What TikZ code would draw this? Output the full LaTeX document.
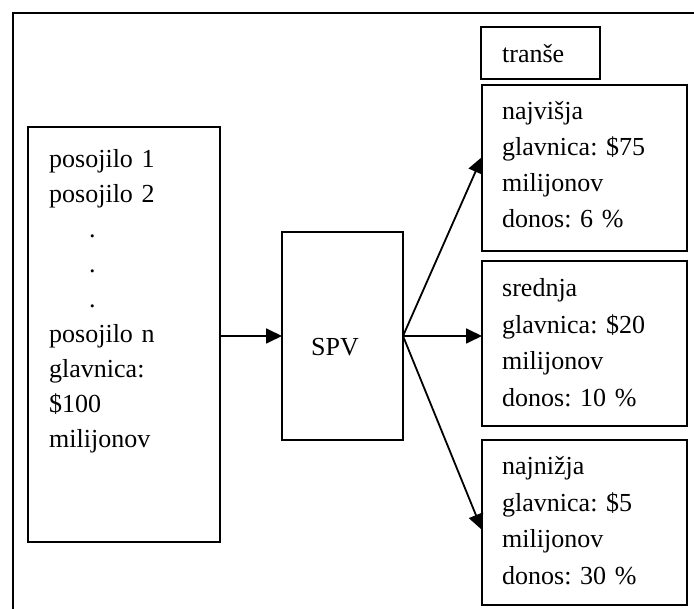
\documentclass[tikz,border=0pt]{standalone}
\usepackage{fontspec}
\setmainfont{Liberation Serif}
\usetikzlibrary{arrows.meta}
\frenchspacing
\begin{document}
\begin{tikzpicture}[x=1pt,y=-1pt,
  box/.style={draw, line width=1.8pt, rectangle, inner sep=0pt, outer sep=0pt, anchor=north west},
  txt/.style={inner sep=0pt, anchor=base west, align=left, text width=#1},
  txt/.default=185,
  conn/.style={line width=1.8pt, -{Triangle[length=16pt,width=15pt]}},
  every node/.style={font=\fontsize{26}{35}\selectfont}
]
\useasboundingbox (0,0) rectangle (694,609);
% outer frame (open at right and bottom)
\coordinate (fb) at (13,609);
\coordinate (ft) at (13,13);
\coordinate (fr) at (694,13);
\draw[line width=1.8pt] (fb) -- (ft) -- (fr);

% boxes
\node[box, minimum width=192, minimum height=415] (loans) at (28,127) {};
\node[box, minimum width=121, minimum height=208] (spv) at (282,232) {};
\node[box, minimum width=119, minimum height=52] (tr) at (481,27) {};
\node[box, minimum width=205, minimum height=166] (hi) at (482,85) {};
\node[box, minimum width=205, minimum height=165] (mid) at (482,261) {};
\node[box, minimum width=205, minimum height=165] (lo) at (482,440) {};

% texts
\node[txt] (loanstxt) at (49,168) {posojilo 1\\posojilo 2\\\hspace*{40pt}.\\\hspace*{40pt}.\\\hspace*{40pt}.\\posojilo n\\glavnica:\\\$100\\milijonov};
\node[txt=80] (spvtxt) at (311,356) {SPV};
\node[txt=90] (trtxt) at (502,63) {tranše};
\node[txt, font=\fontsize{26}{36}\selectfont] (hitxt) at (502,120) {najvišja\\glavnica: \$75\\milijonov\\donos: 6 \%};
\node[txt, font=\fontsize{26}{36.5}\selectfont] (midtxt) at (502,297) {srednja\\glavnica: \$20\\milijonov\\donos: 10 \%};
\node[txt, font=\fontsize{26}{36.5}\selectfont] (lotxt) at (502,475) {najnižja\\glavnica: \$5\\milijonov\\donos: 30 \%};

% connectors
\draw[conn] (loans.east |- spv.west) -- (spv.west);
\draw[conn] (spv.east) -- (spv.east -| mid.west);
\draw[conn] (spv.east) -- ([yshift=11pt]hi.west);
\draw[conn] (spv.east) -- ([yshift=-7.5pt]lo.west);
\end{tikzpicture}
\end{document}
